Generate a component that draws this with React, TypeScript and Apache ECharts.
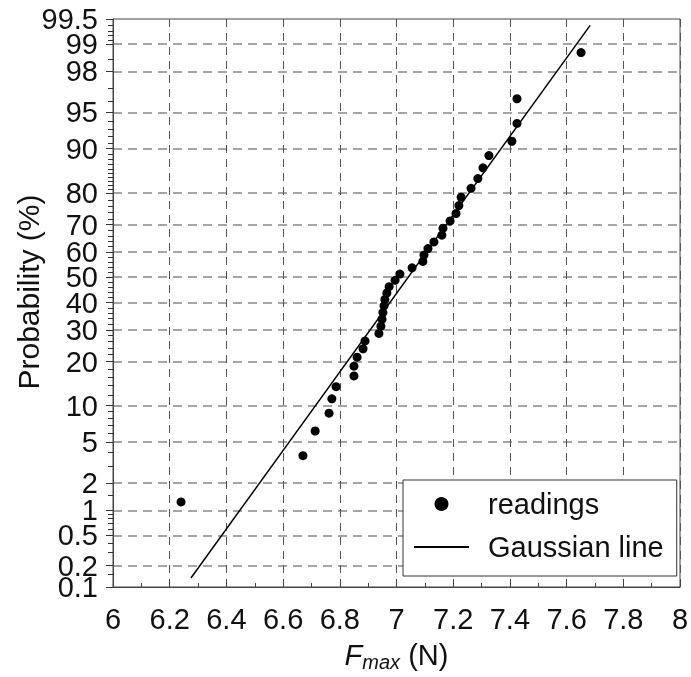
import React, { useEffect, useRef } from "react";
import * as echarts from "echarts";

const FONT = "'Liberation Sans', Arial, Helvetica, sans-serif";

// Readings: F_max (N) and plotting probability (%)
const fmaxValues = [
  6.24, 6.67, 6.713, 6.762, 6.772, 6.787, 6.85, 6.85, 6.861, 6.882,
  6.889, 6.938, 6.945, 6.949, 6.952, 6.956, 6.959, 6.966, 6.974, 6.995,
  7.012, 7.055, 7.093, 7.097, 7.111, 7.132, 7.16, 7.164, 7.189, 7.21,
  7.22, 7.228, 7.263, 7.287, 7.305, 7.326, 7.407, 7.425, 7.425, 7.651,
];
const probValues = [
  1.25, 3.75, 6.25, 8.75, 11.25, 13.75, 16.25, 18.75, 21.25, 23.75,
  26.25, 28.75, 31.25, 33.75, 36.25, 38.75, 41.25, 43.75, 46.25, 48.75,
  51.25, 53.75, 56.25, 58.75, 61.25, 63.75, 66.25, 68.75, 71.25, 73.75,
  76.25, 78.75, 81.25, 83.75, 86.25, 88.75, 91.25, 93.75, 96.25, 98.75,
];

// Gaussian line end points
const gaussX = [6.275, 7.683];
const gaussP = [0.135, 99.4];

// Probability axis ticks (%)
const probTicks = [0.1, 0.2, 0.5, 1, 2, 5, 10, 20, 30, 40, 50, 60, 70, 80, 90, 95, 98, 99, 99.5];
const probMinor = [
  0.15, 0.3, 0.4, 0.6, 0.7, 0.8, 0.9, 1.5, 3, 4, 6, 7, 8, 9, 12, 14, 16, 18,
  22, 24, 26, 28, 32, 34, 36, 38, 42, 44, 46, 48, 52, 54, 56, 58, 62, 64, 66, 68,
  72, 74, 76, 78, 81, 82, 83, 84, 85, 86, 87, 88, 89, 91, 92, 93, 94, 96, 97, 98.5,
  99.1, 99.2, 99.3, 99.4,
];
const xTickLabels = ["6", "6.2", "6.4", "6.6", "6.8", "7", "7.2", "7.4", "7.6", "7.8", "8"];

function probit(p: number): number {
  const a = [-3.969683028665376e1, 2.209460984245205e2, -2.759285104469687e2, 1.38357751867269e2, -3.066479806614716e1, 2.506628277459239];
  const b = [-5.447609879822406e1, 1.615858368580409e2, -1.556989798598866e2, 6.680131188771972e1, -1.328068155922803e1];
  const c = [-7.784894002430293e-3, -3.223964580411365e-1, -2.400758277161838, -2.549732539343734, 4.374664141464968, 2.938163982698783];
  const d = [7.784695709041462e-3, 3.224671290700398e-1, 2.445134137142996, 3.754408661907416];
  const pl = 0.02425;
  const ph = 1 - pl;
  if (p < pl) {
    const q = Math.sqrt(-2 * Math.log(p));
    return (((((c[0] * q + c[1]) * q + c[2]) * q + c[3]) * q + c[4]) * q + c[5]) / ((((d[0] * q + d[1]) * q + d[2]) * q + d[3]) * q + 1);
  }
  if (p <= ph) {
    const q = p - 0.5;
    const r = q * q;
    return ((((((a[0] * r + a[1]) * r + a[2]) * r + a[3]) * r + a[4]) * r + a[5]) * q) / (((((b[0] * r + b[1]) * r + b[2]) * r + b[3]) * r + b[4]) * r + 1);
  }
  const q = Math.sqrt(-2 * Math.log(1 - p));
  return -(((((c[0] * q + c[1]) * q + c[2]) * q + c[3]) * q + c[4]) * q + c[5]) / ((((d[0] * q + d[1]) * q + d[2]) * q + d[3]) * q + 1);
}

const zOf = (pct: number) => probit(pct / 100);

export default function App() {
  const ref = useRef<HTMLDivElement>(null);
  useEffect(() => {
    if (!ref.current) return;
    const chart = echarts.init(ref.current, undefined, { renderer: "svg" });
    const zMajor = probTicks.map(zOf);
    const n = zMajor.length;
    const zMin = zMajor[0];
    const zMax = zMajor[n - 1];
    const zInner = zMajor.slice(1, -1); // 0.2 … 99 (ticks and grid lines)
    const zInnerLabels = zMajor.slice(1, -2); // 0.2 … 98
    const zEnds = [zMin, zMax]; // 0.1 and 99.5
    const zSecondLast = [zMajor[n - 2]]; // 99
    const zMinor = probMinor.map(zOf);
    const labelFor = (v: number) => {
      let best = 0;
      let bd = Infinity;
      zMajor.forEach((z, i) => {
        const dd = Math.abs(z - v);
        if (dd < bd) {
          bd = dd;
          best = i;
        }
      });
      return String(probTicks[best]);
    };
    const labelStyle = {
      fontSize: 29,
      color: "#111",
      margin: 15,
      fontFamily: FONT,
      formatter: (v: number) => labelFor(v),
    };
    const baseY = {
      type: "value",
      min: zMin,
      max: zMax,
      position: "left",
      offset: 0,
    };
    const option: any = {
      animation: false,
      textStyle: { fontFamily: FONT },
      grid: {
        left: 113,
        right: 11,
        top: 19,
        bottom: 90,
        show: true,
        borderColor: "#444",
        borderWidth: 1,
        backgroundColor: "transparent",
        containLabel: false,
        outerBoundsMode: "none",
      },
      legend: {
        data: ["readings", { name: "Gaussian line", itemStyle: { opacity: 0 } }],
        orient: "vertical",
        left: 403,
        top: 480,
        itemWidth: 55,
        itemHeight: 14,
        itemGap: 13,
        padding: [9, 13, 14, 10],
        backgroundColor: "#fff",
        borderColor: "#333",
        borderWidth: 1,
        textStyle: { fontSize: 29, color: "#111", fontFamily: FONT, lineHeight: 30, padding: [0, 0, 0, 14] },
      },
      xAxis: {
        type: "value",
        min: 6,
        max: 8,
        interval: 0.2,
        axisLine: { onZero: false, lineStyle: { color: "#444", width: 1 } },
        axisTick: { inside: true, length: 8, lineStyle: { color: "#444" } },
        minorTick: { show: true, splitNumber: 2, length: 4, lineStyle: { color: "#444" } },
        axisLabel: {
          fontSize: 29,
          color: "#111",
          margin: 17,
          fontFamily: FONT,
          formatter: (v: number) => xTickLabels[Math.round((v - 6) / 0.2)] ?? String(v),
        },
        splitLine: { show: true, lineStyle: { type: [8, 6], color: "#555", width: 1 } },
        name: "{f|F}{s|max} (N)",
        nameLocation: "middle",
        nameGap: 50,
        nameTextStyle: {
          fontSize: 29,
          color: "#111",
          fontFamily: FONT,
          lineHeight: 34,
          rich: {
            f: { fontStyle: "italic", fontSize: 29, color: "#111", fontFamily: FONT, lineHeight: 34 },
            s: { fontStyle: "italic", fontSize: 20, color: "#111", fontFamily: FONT, lineHeight: 20, verticalAlign: "bottom" },
          },
        },
      },
      yAxis: [
        {
          ...baseY,
          axisLine: { show: true, onZero: false, lineStyle: { color: "#444", width: 1 } },
          axisTick: { show: true, length: 7, customValues: zInner, lineStyle: { color: "#333" } },
          axisLabel: { ...labelStyle, customValues: zInnerLabels },
          splitLine: { show: true, lineStyle: { type: [9, 6], color: "#888", width: 1.5 } },
          name: "Probability (%)",
          nameLocation: "middle",
          nameGap: 70,
          nameTextStyle: { fontSize: 30, color: "#111", fontFamily: FONT, padding: [0, 0, 0, 22] },
        },
        {
          ...baseY,
          axisLine: { show: false, onZero: false },
          axisTick: { show: true, length: 7, customValues: zEnds, lineStyle: { color: "#333" } },
          axisLabel: { ...labelStyle, customValues: zEnds, showMinLabel: true, showMaxLabel: true },
          splitLine: { show: false },
        },
        {
          ...baseY,
          axisLine: { show: false, onZero: false },
          axisTick: { show: true, length: 5, customValues: zMinor, lineStyle: { color: "#333" } },
          axisLabel: { ...labelStyle, customValues: zSecondLast, showMinLabel: true, showMaxLabel: true },
          splitLine: { show: false },
        },
      ],
      series: [
        {
          name: "Gaussian line",
          type: "line",
          yAxisIndex: 0,
          data: gaussX.map((x, i) => [x, zOf(gaussP[i])]),
          symbol: "none",
          showSymbol: false,
          lineStyle: { color: "#000", width: 1.5 },
          itemStyle: { color: "#000" },
          z: 4,
        },
        {
          name: "readings",
          type: "scatter",
          yAxisIndex: 0,
          data: fmaxValues.map((x, i) => [x, zOf(probValues[i])]),
          symbol: "circle",
          symbolSize: 9,
          itemStyle: { color: "#000", opacity: 1 },
          z: 5,
        },
      ],
    };
    chart.setOption(option);
    return () => chart.dispose();
  }, []);
  return <div ref={ref} style={{ position: "fixed", left: 0, top: 0, width: 691, height: 677 }} />;
}
